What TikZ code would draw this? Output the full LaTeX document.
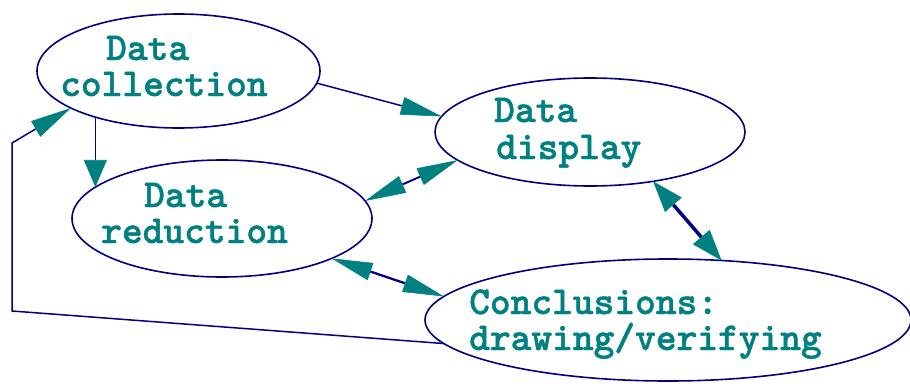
\documentclass[tikz,border=0pt]{standalone}
\usepackage{fontspec}
\newfontfamily\lblfont{lmmonolt10-bold.otf}[FakeBold=1.2]
\usetikzlibrary{shapes.geometric,arrows.meta}
\definecolor{navyline}{RGB}{0,0,128}
\definecolor{tealtext}{RGB}{0,128,128}
\tikzset{
  TA/.tip={Triangle[length=41pt,width=18pt,color=tealtext,line width=0.6pt]},
  TB/.tip={Triangle[length=27pt,width=23pt,color=tealtext,line width=0.6pt]},
  TC/.tip={Triangle[length=31pt,width=22pt,color=tealtext,line width=0.6pt]},
}
\begin{document}
\begin{tikzpicture}[x=1pt,y=-1pt,
  oval/.style={ellipse,draw=navyline,line width=1.6pt,inner sep=0pt,outer sep=0pt},
  lbl/.style={anchor=base west,inner sep=0pt,text=tealtext,
    font=\lblfont\fontsize{39.5}{42}\selectfont},
  conn/.style={draw=navyline,line width=1.5pt}]
\clip (0,0) rectangle (910,383);
\fill[white] (0,0) rectangle (910,383);
% ellipses
\node[oval,minimum width=283pt,minimum height=114pt] (coll) at (178.5,71) {};
\node[oval,minimum width=310pt,minimum height=108pt] (disp) at (590,132) {};
\node[oval,minimum width=300pt,minimum height=117pt] (red) at (222,218.5) {};
\node[oval,minimum width=486pt,minimum height=122pt] (conc) at (668,320) {};
% labels
\node[lbl] (collA) at (106,60) {Data};
\node[lbl] (collB) at (60,96) {collection};
\node[lbl] (dispA) at (494,122) {Data};
\node[lbl] (dispB) at (496,159) {display};
\node[lbl] (redA) at (144,207) {Data};
\node[lbl] (redB) at (101,243) {reduction};
\node[lbl] (concA) at (469,314) {Conclusions:};
\node[lbl] (concB) at (469,350) {drawing/verifying};
% connectors
\draw[conn,-TA] (coll.-5) -- (disp.174);
\draw[conn,-TB] (coll.-151) -- (coll.-151 |- red.166);
\draw[conn,TA-TA,line width=1.9pt] (red.7.5) -- (disp.-168);
\draw[conn,TC-TC,line width=3.5pt] (disp.-38) -- (conc.48);
\draw[conn,TA-TA,line width=2.3pt] (red.-20) -- (conc.174);
\coordinate (fbA) at (12,311);
\coordinate (fbB) at (12,143);
\draw[conn,-TA] (conc.-174) -- (fbA) -- (fbB) -- (coll.-161);
\end{tikzpicture}
\end{document}
